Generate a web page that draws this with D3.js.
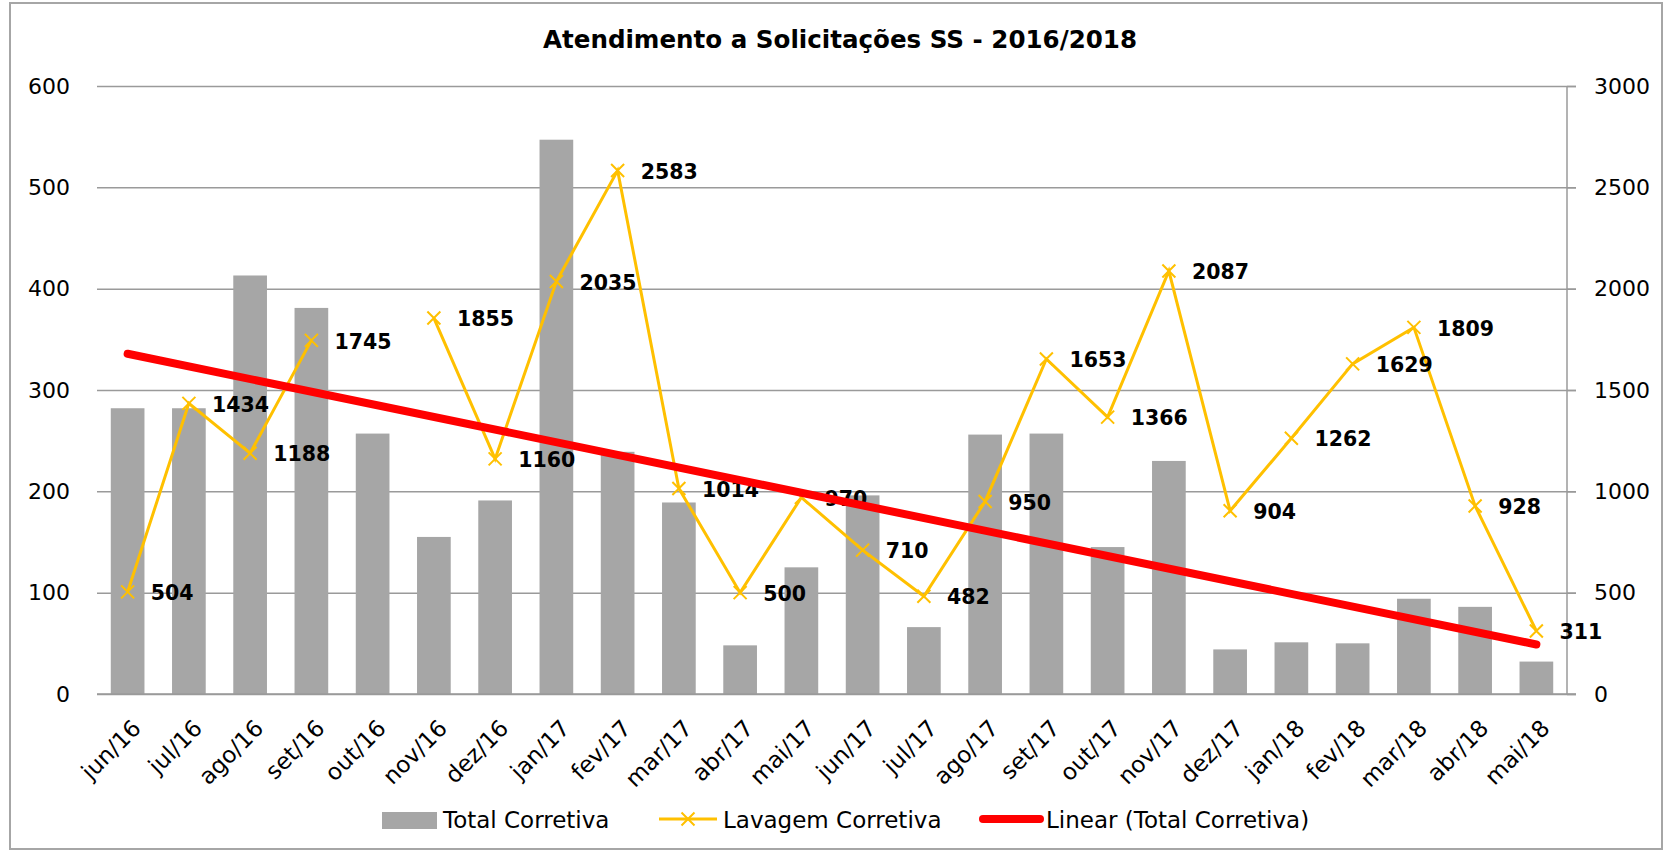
<!DOCTYPE html>
<html>
<head>
<meta charset="utf-8">
<script src="https://cdn.jsdelivr.net/npm/d3@7"></script>
<style>
  body { margin: 0; background: #fff; }
  svg { display: block; font-family: 'DejaVu Sans', sans-serif; }
</style>
</head>
<body>
<div class="container"></div>
<script>
const months = ['jun/16', 'jul/16', 'ago/16', 'set/16', 'out/16', 'nov/16', 'dez/16', 'jan/17', 'fev/17',
    'mar/17', 'abr/17', 'mai/17', 'jun/17', 'jul/17', 'ago/17', 'set/17', 'out/17', 'nov/17', 'dez/17',
    'jan/18', 'fev/18', 'mar/18', 'abr/18', 'mai/18'];
// Total Corretiva (left axis)
const totalCorretiva = [282, 282, 413, 381, 257, 155, 191, 547, 239, 189, 48, 125, 196, 66, 256, 257, 145,
    230, 44, 51, 50, 94, 86, 32];
// Lavagem Corretiva (right axis), out/16 has no value
const lavagemCorretiva = [504, 1434, 1188, 1745, null, 1855, 1160, 2035, 2583, 1014, 500, 970, 710, 482, 950,
    1653, 1366, 2087, 904, 1262, 1629, 1809, 928, 311];
const leftTicks = [0, 100, 200, 300, 400, 500, 600];
const rightTicks = [0, 500, 1000, 1500, 2000, 2500, 3000];

const width = 1670, height = 855;
const pLeft = 97, pRight = 1567, pTop = 86, pBottom = 694;

const svg = d3.select('.container').append('svg')
    .attr('width', width)
    .attr('height', height);

svg.append('rect')
    .attr('x', 10).attr('y', 3)
    .attr('width', 1652).attr('height', 846)
    .attr('fill', '#fff')
    .attr('stroke', '#a6a6a6')
    .attr('stroke-width', 2);

const x = d3.scaleBand().domain(months).range([pLeft, pRight]).paddingInner(0.45).paddingOuter(0.225);
const yL = d3.scaleLinear().domain([0, 600]).range([pBottom, pTop]);
const yR = d3.scaleLinear().domain([0, 3000]).range([pBottom, pTop]);
const cx = d => x(d) + x.bandwidth() / 2;

// gridlines + left labels
const gl = svg.append('g').call(d3.axisLeft(yL).tickValues(leftTicks).tickSize(0).tickFormat(d3.format('d')));
gl.select('.domain').remove();
gl.selectAll('.tick line')
    .attr('x1', pLeft).attr('x2', pRight + 9)
    .attr('stroke', '#9a9a9a').attr('stroke-width', 1.5);
gl.selectAll('.tick text')
    .attr('x', 70).attr('font-size', 22).attr('font-family', 'DejaVu Sans').attr('fill', '#000');

// right axis
const ra = svg.append('g')
    .attr('transform', `translate(${pRight},0)`)
    .call(d3.axisRight(yR).tickValues(rightTicks).tickSize(9).tickPadding(18).tickFormat(d3.format('d')));
ra.select('.domain').attr('stroke', '#9a9a9a').attr('stroke-width', 1.5).attr('d', `M0,${pTop}V${pBottom}`);
ra.selectAll('.tick line').attr('stroke', '#9a9a9a').attr('stroke-width', 1.5);
ra.selectAll('.tick text').attr('font-size', 22).attr('font-family', 'DejaVu Sans').attr('fill', '#000');

// bars
svg.append('g').selectAll('rect')
    .data(months)
    .join('rect')
    .attr('x', d => x(d))
    .attr('width', x.bandwidth())
    .attr('y', (d, i) => yL(totalCorretiva[i]))
    .attr('height', (d, i) => pBottom - yL(totalCorretiva[i]))
    .attr('fill', '#a6a6a6');

// baseline
svg.append('line')
    .attr('x1', pLeft).attr('x2', pRight + 9)
    .attr('y1', pBottom).attr('y2', pBottom)
    .attr('stroke', '#9a9a9a').attr('stroke-width', 1.5);

// x labels
svg.append('g').selectAll('text')
    .data(months)
    .join('text')
    .attr('transform', d => `translate(${cx(d) + 9},${pBottom + 30}) rotate(-45)`)
    .attr('text-anchor', 'end')
    .attr('dy', '0.35em')
    .attr('font-size', 23)
    .text(d => d);

// lavagem line
const pts = months.map((m, i) => ({ m, v: lavagemCorretiva[i] }));
const line = d3.line()
    .defined(d => d.v != null)
    .x(d => cx(d.m))
    .y(d => yR(d.v));
svg.append('path')
    .datum(pts)
    .attr('d', line)
    .attr('fill', 'none')
    .attr('stroke', '#ffc000')
    .attr('stroke-width', 3);

const valid = pts.filter(d => d.v != null);
const mk = 6.5;
svg.append('g').selectAll('path')
    .data(valid)
    .join('path')
    .attr('d', d => {
        const px = cx(d.m), py = yR(d.v);
        return `M${px - mk},${py - mk}L${px + mk},${py + mk}M${px - mk},${py + mk}L${px + mk},${py - mk}`;
    })
    .attr('stroke', '#ffc000')
    .attr('stroke-width', 2);

svg.append('g').selectAll('text')
    .data(valid)
    .join('text')
    .attr('x', d => cx(d.m) + 23)
    .attr('y', d => yR(d.v) + 1)
    .attr('dy', '0.35em')
    .attr('font-size', 20.5)
    .attr('font-weight', 'bold')
    .text(d => d.v);

// linear trend of Total Corretiva (least squares)
const xs = d3.range(months.length);
const mx = d3.mean(xs), my = d3.mean(totalCorretiva);
const slope = d3.sum(xs, i => (i - mx) * (totalCorretiva[i] - my)) / d3.sum(xs, i => (i - mx) ** 2);
const icpt = my - slope * mx;
const first = months[0], last = months[months.length - 1];
svg.append('line')
    .attr('x1', cx(first)).attr('y1', yL(icpt))
    .attr('x2', cx(last)).attr('y2', yL(icpt + slope * (months.length - 1)))
    .attr('stroke', '#ff0000')
    .attr('stroke-width', 8)
    .attr('stroke-linecap', 'round');

// title
svg.append('text')
    .attr('x', 840).attr('y', 48)
    .attr('text-anchor', 'middle')
    .attr('font-size', 25)
    .attr('font-weight', 'bold')
    .attr('textLength', 594)
    .attr('lengthAdjust', 'spacingAndGlyphs')
    .text('Atendimento a Solicitações SS - 2016/2018');

// legend
const lg = svg.append('g').attr('font-size', 23);
lg.append('rect').attr('x', 382).attr('y', 812).attr('width', 55).attr('height', 17).attr('fill', '#a6a6a6');
lg.append('text').attr('x', 443).attr('y', 828).text('Total Corretiva');
lg.append('line').attr('x1', 659).attr('x2', 717).attr('y1', 819).attr('y2', 819)
    .attr('stroke', '#ffc000').attr('stroke-width', 3);
lg.append('path')
    .attr('d', `M${688 - mk},${819 - mk}L${688 + mk},${819 + mk}M${688 - mk},${819 + mk}L${688 + mk},${819 - mk}`)
    .attr('stroke', '#ffc000').attr('stroke-width', 2);
lg.append('text').attr('x', 723).attr('y', 828).text('Lavagem Corretiva');
lg.append('line').attr('x1', 983).attr('x2', 1040).attr('y1', 819).attr('y2', 819)
    .attr('stroke', '#ff0000').attr('stroke-width', 8).attr('stroke-linecap', 'round');
lg.append('text').attr('x', 1046).attr('y', 828).text('Linear (Total Corretiva)');
</script>
</body>
</html>
